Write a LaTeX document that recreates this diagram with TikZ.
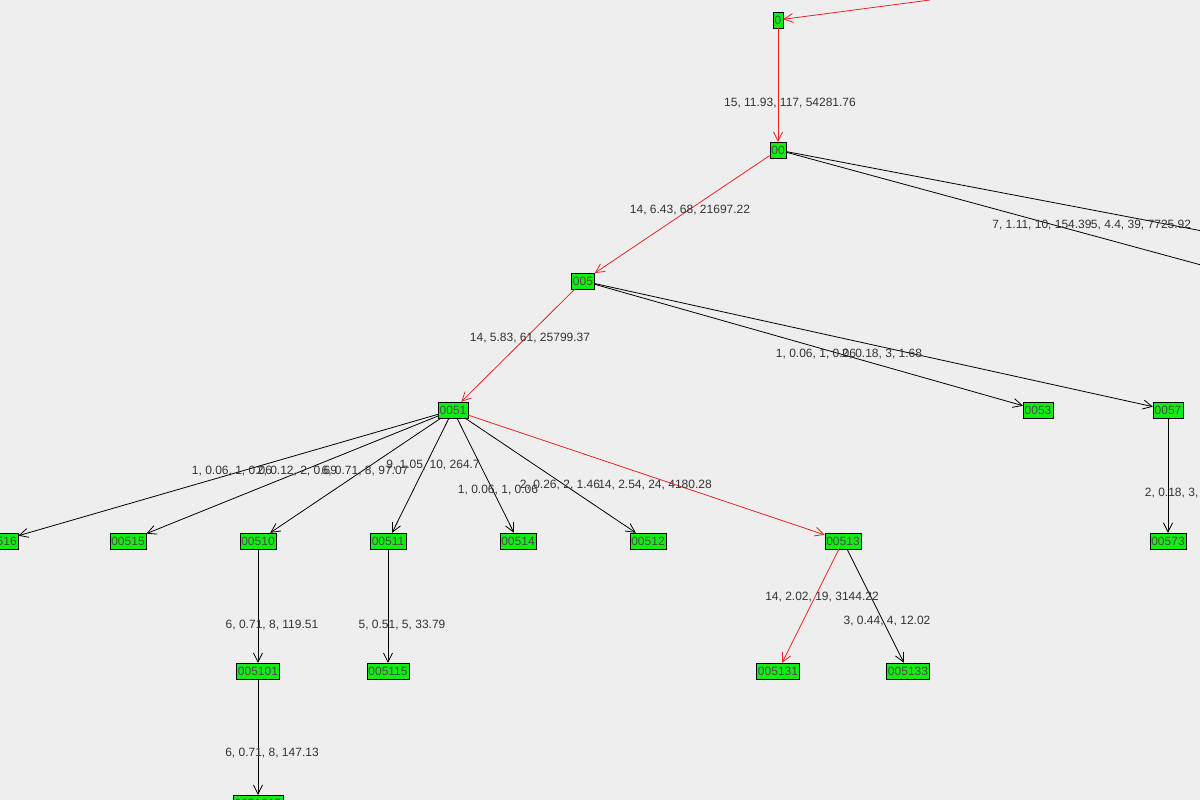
\documentclass[tikz,border=0pt]{standalone}
\usepackage{fontspec}
\setmainfont{Liberation Sans}
\usetikzlibrary{arrows.meta}
\definecolor{bg}{HTML}{EEEEEE}
\definecolor{boxgreen}{HTML}{11EE11}
\definecolor{edgered}{HTML}{EE2222}
\definecolor{txt}{HTML}{333333}

\begin{document}
\begin{tikzpicture}[x=1pt, y=-1pt,
    vert/.style={rectangle, draw=black, fill=boxgreen, inner sep=1.5pt, minimum height=16pt,
                 font=\fontsize{12}{12}\selectfont, text=black!70},
    elab/.style={font=\fontsize{12}{12}\selectfont, text=txt, inner sep=0pt},
    link/.style={-{Straight Barb[length=9pt, width=9pt]}, line width=0.8pt},
    hot/.style={link, draw=edgered}]
    \fill[bg] (0,0) rectangle (1200,800);
    \useasboundingbox (0,0) rectangle (1200,800);
    % vertices
    \node[vert, minimum width=10pt, inner sep=0.5pt] (v0) at (778,20) {0};
    \node[vert] (v00) at (778,150) {00};
    \node[vert] (v005) at (583,281) {005};
    \node[vert] (v0051) at (453,410) {0051};
    \node[vert] (v0053) at (1038,410) {0053};
    \node[vert] (v0057) at (1168,410) {0057};
    \node[vert] (v00516) at (0,541) {00516};
    \node[vert] (v00515) at (128,541) {00515};
    \node[vert] (v00510) at (258,541) {00510};
    \node[vert] (v00511) at (388,541) {00511};
    \node[vert] (v00514) at (518,541) {00514};
    \node[vert] (v00512) at (648,541) {00512};
    \node[vert] (v00513) at (843,541) {00513};
    \node[vert] (v00573) at (1168,541) {00573};
    \node[vert] (v005101) at (258,671) {005101};
    \node[vert] (v005115) at (388,671) {005115};
    \node[vert] (v005131) at (778,671) {005131};
    \node[vert] (v005133) at (908,671) {005133};
    \node[vert] (v0051015) at (258,803) {0051015};
    \coordinate (src) at (930,0);
    \coordinate (out1) at (1260,242);
    \coordinate (out2) at (1260,281);
    % edges
    \draw[hot] (src) -- (v0);
    \draw[hot] (v0) -- (v00);
    \draw[hot] (v00) -- (v005);
    \draw[line width=0.8pt] (v00) -- (out1);
    \draw[line width=0.8pt] (v00) -- (out2);
    \draw[hot] (v005) -- (v0051);
    \draw[link] (v005) -- (v0053);
    \draw[link] (v005) -- (v0057);
    \draw[link] (v0057) -- (v00573);
    \draw[link] (v0051) -- (v00516);
    \draw[link] (v0051) -- (v00515);
    \draw[link] (v0051) -- (v00510);
    \draw[link] (v0051) -- (v00511);
    \draw[link] (v0051) -- (v00514);
    \draw[link] (v0051) -- (v00512);
    \draw[hot] (v0051) -- (v00513);
    \draw[link] (v00510) -- (v005101);
    \draw[link] (v005101) -- (v0051015);
    \draw[link] (v00511) -- (v005115);
    \draw[hot] (v00513) -- (v005131);
    \draw[link] (v00513) -- (v005133);
    % edge labels
    \node[elab] (l1) at (790,103) {15, 11.93, 117, 54281.76};
    \node[elab] (l2) at (690,210) {14, 6.43, 68, 21697.22};
    \node[elab] (l3) at (1042,225) {7, 1.11, 10, 154.39};
    \node[elab] (l4) at (1141,225) {5, 4.4, 39, 7725.92};
    \node[elab] (l5) at (530,338) {14, 5.83, 61, 25799.37};
    \node[elab] (l6) at (816,354) {1, 0.06, 1, 0.06};
    \node[elab] (l7) at (882,354) {2, 0.18, 3, 1.68};
    \node[elab] (l8) at (232,471) {1, 0.06, 1, 0.06};
    \node[elab] (l9) at (297,471) {2, 0.12, 2, 0.69};
    \node[elab] (l10) at (365,471) {6, 0.71, 8, 97.07};
    \node[elab] (l11) at (433,465) {9, 1.05, 10, 264.7};
    \node[elab] (l12) at (498,490) {1, 0.06, 1, 0.06};
    \node[elab] (l13) at (560,485) {2, 0.26, 2, 1.46};
    \node[elab] (l14) at (655,485) {14, 2.54, 24, 4180.28};
    \node[elab] (l15) at (1185,493) {2, 0.18, 3, 1.68};
    \node[elab] (l16) at (272,625) {6, 0.71, 8, 119.51};
    \node[elab] (l17) at (402,625) {5, 0.51, 5, 33.79};
    \node[elab] (l18) at (822,597) {14, 2.02, 19, 3144.22};
    \node[elab] (l19) at (887,621) {3, 0.44, 4, 12.02};
    \node[elab] (l20) at (272,753) {6, 0.71, 8, 147.13};
\end{tikzpicture}
\end{document}
